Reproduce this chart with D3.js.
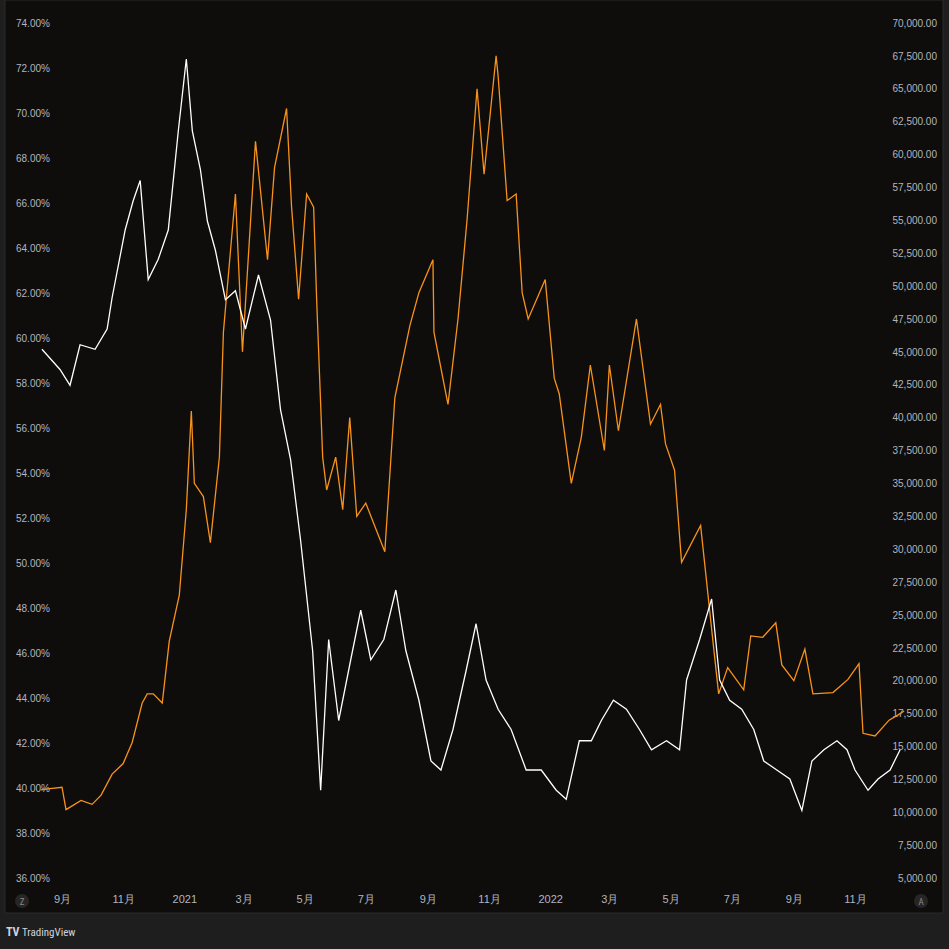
<!DOCTYPE html>
<html><head><meta charset="utf-8">
<script src="https://cdn.jsdelivr.net/npm/d3@7"></script>
<style>body{margin:0;background:#1e1e1e;}svg{display:block;font-family:"Liberation Sans Narrow","Roboto Condensed","DejaVu Sans Condensed",sans-serif;}</style>
</head><body><div id="chart"></div>
<script>
var btcDates = ["2020-08-11","2020-08-20","2020-09-01","2020-09-05","2020-09-20","2020-10-01","2020-10-10","2020-10-21","2020-11-01","2020-11-10","2020-11-20","2020-11-25","2020-12-01","2020-12-10","2020-12-17","2020-12-27","2021-01-03","2021-01-08","2021-01-11","2021-01-20","2021-01-27","2021-02-05","2021-02-09","2021-02-21","2021-02-28","2021-03-13","2021-03-25","2021-04-01","2021-04-13","2021-04-18","2021-04-25","2021-05-03","2021-05-10","2021-05-13","2021-05-19","2021-05-23","2021-06-01","2021-06-08","2021-06-15","2021-06-22","2021-07-01","2021-07-20","2021-07-30","2021-08-14","2021-08-23","2021-09-06","2021-09-07","2021-09-21","2021-10-01","2021-10-10","2021-10-20","2021-10-27","2021-11-08","2021-11-10","2021-11-19","2021-11-28","2021-12-04","2021-12-10","2021-12-27","2022-01-05","2022-01-10","2022-01-22","2022-02-01","2022-02-10","2022-02-24","2022-03-01","2022-03-10","2022-03-28","2022-04-11","2022-04-21","2022-04-26","2022-05-05","2022-05-12","2022-05-31","2022-06-13","2022-06-18","2022-06-27","2022-07-13","2022-07-20","2022-08-01","2022-08-14","2022-08-20","2022-09-01","2022-09-12","2022-09-20","2022-10-10","2022-10-25","2022-11-05","2022-11-09","2022-11-21","2022-12-05","2022-12-14","2022-12-20"];
var btcPrice = [11700,11800,11900,10200,10900,10600,11300,12900,13700,15300,18300,19000,19000,18300,23000,26500,33000,40500,35000,34000,30500,37000,46500,57000,45000,61000,52000,59000,63500,56000,49000,57000,56000,49000,37000,34500,37000,33000,40000,32500,33500,29800,41500,47000,49500,52000,46500,41000,47500,55000,65000,58500,67500,66000,56500,57000,49500,47500,50500,43000,41800,35000,38500,44000,37500,44000,39000,47500,39500,41000,38000,36000,29000,31800,22500,19000,21000,19300,23400,23300,24400,21200,20000,22400,19000,19100,20100,21300,16000,15800,17000,17400,17700];

var domDates = ["2020-08-12","2020-08-30","2020-09-09","2020-09-19","2020-10-04","2020-10-16","2020-10-21","2020-11-03","2020-11-11","2020-11-18","2020-11-26","2020-12-06","2020-12-16","2020-12-26","2021-01-03","2021-01-09","2021-01-17","2021-01-24","2021-02-01","2021-02-11","2021-02-21","2021-03-03","2021-03-16","2021-03-28","2021-04-07","2021-04-17","2021-04-27","2021-05-09","2021-05-17","2021-05-25","2021-06-04","2021-06-16","2021-06-26","2021-07-06","2021-07-19","2021-07-31","2021-08-10","2021-08-23","2021-09-04","2021-09-14","2021-09-26","2021-10-09","2021-10-19","2021-10-29","2021-11-10","2021-11-23","2021-12-08","2021-12-23","2022-01-07","2022-01-17","2022-01-30","2022-02-11","2022-02-21","2022-03-05","2022-03-18","2022-03-31","2022-04-12","2022-04-27","2022-05-10","2022-05-17","2022-05-30","2022-06-11","2022-06-19","2022-06-29","2022-07-11","2022-07-23","2022-08-02","2022-08-15","2022-08-28","2022-09-09","2022-09-19","2022-10-01","2022-10-14","2022-10-24","2022-11-01","2022-11-14","2022-11-24","2022-12-06","2022-12-16"];
var domPct = [59.5,58.6,57.9,59.7,59.5,60.4,61.8,64.8,66.1,67.0,62.6,63.5,64.8,69.2,72.4,69.2,67.5,65.2,63.9,61.7,62.1,60.4,62.8,60.8,56.8,54.6,51.0,46.1,39.9,46.6,43.0,45.7,47.9,45.7,46.6,48.8,46.1,43.9,41.2,40.8,42.6,45.2,47.3,44.8,43.5,42.6,40.8,40.8,39.9,39.5,42.1,42.1,43.0,43.9,43.5,42.6,41.7,42.1,41.7,44.8,46.6,48.4,44.8,43.9,43.5,42.6,41.2,40.8,40.4,39.0,41.2,41.7,42.1,41.7,40.8,39.9,40.4,40.8,41.7];

var leftTicks = d3.range(36, 75, 2);
var rightTicks = d3.range(5000, 70001, 2500);
var monthTicks = ["2020-09-01","2020-11-01","2021-01-01","2021-03-01","2021-05-01","2021-07-01","2021-09-01","2021-11-01","2022-01-01","2022-03-01","2022-05-01","2022-07-01","2022-09-01","2022-11-01"];

var W = 949, H = 949;
var parse = d3.utcParse("%Y-%m-%d");
var svg = d3.select("#chart").append("svg").attr("width", W).attr("height", H);
svg.append("rect").attr("x", 5).attr("y", 0).attr("width", 938).attr("height", 913).attr("fill", "#0f0d0c").attr("stroke", "#2a2a2a");

var x = d3.scaleUtc().domain([parse("2020-09-01"), parse("2022-11-01")]).range([62, 855]);
var yL = d3.scaleLinear().domain([36, 74]).range([878, 23]);
var yR = d3.scaleLinear().domain([5000, 70000]).range([878, 23]);

var fmtMonth = function (d) {
  return d.getUTCMonth() === 0 ? String(d.getUTCFullYear()) : (d.getUTCMonth() + 1) + "月";
};
var xAxis = svg.append("g").attr("transform", "translate(0,900)")
  .call(d3.axisBottom(x).tickValues(monthTicks.map(parse)).tickFormat(fmtMonth).tickSize(0));
xAxis.select(".domain").remove();
xAxis.selectAll("text").attr("fill", "#b2b5be").attr("font-size", 11).attr("dy", 0);

var lAxis = svg.append("g").attr("transform", "translate(16,0)")
  .call(d3.axisRight(yL).tickValues(leftTicks).tickFormat(function (d) { return d.toFixed(2) + "%"; }).tickSize(0));
lAxis.select(".domain").remove();
lAxis.selectAll("text").attr("fill", "#b2b5be").attr("font-size", 10).attr("x", 0);

var rAxis = svg.append("g").attr("transform", "translate(937,0)")
  .call(d3.axisLeft(yR).tickValues(rightTicks).tickFormat(d3.format(",.2f")).tickSize(0));
rAxis.select(".domain").remove();
rAxis.selectAll("text").attr("fill", "#b2b5be").attr("font-size", 10).attr("x", 0);

var btcLine = d3.line().x(function (d, i) { return x(parse(btcDates[i])); }).y(function (d) { return yR(d); });
var domLine = d3.line().x(function (d, i) { return x(parse(domDates[i])); }).y(function (d) { return yL(d); });

svg.append("path").attr("d", btcLine(btcPrice)).attr("fill", "none").attr("stroke", "#f7931a").attr("stroke-width", 1.3);
svg.append("path").attr("d", domLine(domPct)).attr("fill", "none").attr("stroke", "#ffffff").attr("stroke-width", 1.3);

// corner buttons
[["Z", 22], ["A", 921]].forEach(function (b) {
  svg.append("circle").attr("cx", b[1]).attr("cy", 901).attr("r", 7).attr("fill", "#262626");
  svg.append("text").attr("x", b[1]).attr("y", 905).attr("text-anchor", "middle").attr("fill", "#888").attr("font-size", 9).text(b[0]);
});
svg.append("text").attr("x", 6).attr("y", 936).attr("fill", "#d1d4dc").attr("font-size", 12).attr("font-weight", "bold").text("TV");
svg.append("text").attr("x", 22).attr("y", 936).attr("fill", "#d1d4dc").attr("font-size", 11).text("TradingView");
</script></body></html>
